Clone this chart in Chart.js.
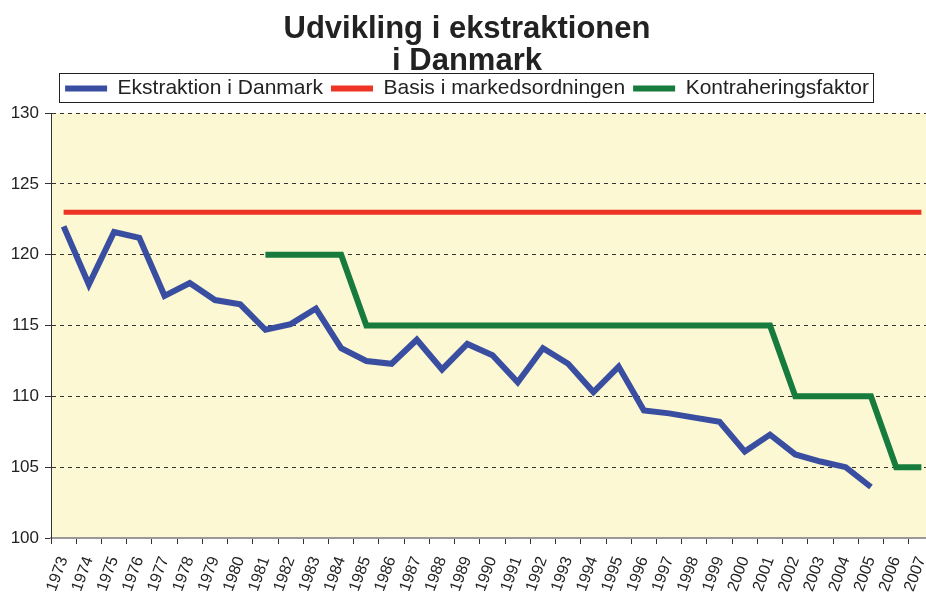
<!DOCTYPE html>
<html>
<head>
<meta charset="utf-8">
<script src="https://cdn.jsdelivr.net/npm/chart.js@4"></script>
<style>
  html, body { margin: 0; padding: 0; background: #fff; overflow: hidden; }
  #wrap { width: 934px; height: 592px; }
</style>
</head>
<body>
<div id="wrap"><canvas id="myChart" width="934" height="592"></canvas></div>
<script>
// years on the x axis
var years = ["1973","1974","1975","1976","1977","1978","1979","1980","1981","1982",
  "1983","1984","1985","1986","1987","1988","1989","1990","1991","1992","1993",
  "1994","1995","1996","1997","1998","1999","2000","2001","2002","2003","2004",
  "2005","2006","2007"];

// Ekstraktion i Danmark (ends 2005)
var ekstraktion = [122.0, 117.9, 121.6, 121.2, 117.1, 118.0, 116.8, 116.5, 114.7, 115.1,
  116.2, 113.4, 112.5, 112.3, 114.0, 111.9, 113.7, 112.9, 111.0, 113.4, 112.3,
  110.3, 112.1, 109.0, 108.8, 108.5, 108.2, 106.1, 107.3, 105.9, 105.4, 105.0,
  103.6, null, null];

// Basis i markedsordningen
var basis = [123, 123, 123, 123, 123, 123, 123, 123, 123, 123, 123, 123, 123, 123,
  123, 123, 123, 123, 123, 123, 123, 123, 123, 123, 123, 123, 123, 123, 123, 123,
  123, 123, 123, 123, 123];

// Kontraheringsfaktor (starts 1981)
var kontrahering = [null, null, null, null, null, null, null, null, 120, 120, 120, 120,
  115, 115, 115, 115, 115, 115, 115, 115, 115, 115, 115, 115, 115, 115, 115, 115, 115,
  110, 110, 110, 110, 105, 105];

var FONT = "'Liberation Sans', Arial, sans-serif";

// yellow plot background + box round the legend
var decor = {
  id: 'decor',
  beforeInit: function (chart) {
    // a little extra room under the legend
    var lg = chart.legend, fit = lg.fit;
    lg.fit = function () { fit.call(lg); lg.height += 4; };
  },
  beforeDraw: function (chart) {
    var a = chart.chartArea, ctx = chart.ctx;
    ctx.save();
    ctx.fillStyle = "#FBF8D3";
    ctx.fillRect(a.left, a.top, a.right - a.left, a.bottom - a.top);
    ctx.restore();
  },
  afterDraw: function (chart) {
    var lg = chart.legend, ctx = chart.ctx;
    if (!lg || !lg.legendHitBoxes.length) return;
    var hb = lg.legendHitBoxes;
    var x1 = hb[0].left, x2 = hb[hb.length - 1].left + hb[hb.length - 1].width;
    var y1 = hb[0].top, y2 = hb[0].top + hb[0].height;
    ctx.save();
    ctx.strokeStyle = "#222";
    ctx.lineWidth = 1;
    ctx.strokeRect(Math.round(x1 - 6) + 0.5, Math.round(y1 - 5) + 0.5,
      Math.round(x2 - x1 + 10), Math.round(y2 - y1 + 8));
    ctx.restore();
  }
};

var chart = new Chart("myChart", {
  type: "line",
  data: {
    labels: years,
    datasets: [
      { data: ekstraktion, label: "Ekstraktion i Danmark", borderColor: "#3A4EA1",
        backgroundColor: "#3A4EA1", borderWidth: 6, pointRadius: 0, fill: false },
      { data: basis, label: "Basis i markedsordningen", borderColor: "#EE3424",
        backgroundColor: "#EE3424", borderWidth: 5, pointRadius: 0, fill: false },
      { data: kontrahering, label: "Kontraheringsfaktor", borderColor: "#167B3D",
        backgroundColor: "#167B3D", borderWidth: 6, pointRadius: 0, fill: false }
    ]
  },
  options: {
    responsive: false,
    animation: false,
    layout: { padding: { left: 0, right: 0, top: 4, bottom: 0 } },
    plugins: {
      title: {
        display: true,
        text: ["Udvikling i ekstraktionen", "i Danmark"],
        color: "#222",
        font: { family: FONT, size: 31, weight: "bold", lineHeight: 1.05 },
        padding: { top: 9, bottom: -8 }
      },
      legend: {
        display: true,
        labels: {
          color: "#222",
          font: { family: FONT, size: 21 },
          boxWidth: 42,
          boxHeight: 6,
          padding: 8,
          generateLabels: function (chart) {
            var items = Chart.defaults.plugins.legend.labels.generateLabels(chart);
            items.forEach(function (it) { it.lineWidth = 0; });
            return items;
          }
        }
      },
      tooltip: { enabled: false }
    },
    scales: {
      x: {
        offset: true,
        afterFit: function (s) { s.paddingRight = 0; s.height = 54; },
        grid: { offset: true, drawOnChartArea: false, tickLength: 6, color: "#333" },
        border: { color: "#999", width: 2 },
        ticks: { color: "#222", font: { family: FONT, size: 16 },
          minRotation: 70, maxRotation: 70, autoSkip: false, padding: 10 }
      },
      y: {
        min: 100,
        max: 130,
        afterFit: function (s) { s.width = 51; },
        grid: { color: "#333", lineWidth: 1, tickLength: 6, tickColor: "#333" },
        border: { color: "#333", width: 1, dash: [4, 4] },
        ticks: { stepSize: 5, color: "#222", font: { family: FONT, size: 17 }, padding: 6 }
      }
    }
  },
  plugins: [decor]
});
</script>
</body>
</html>
